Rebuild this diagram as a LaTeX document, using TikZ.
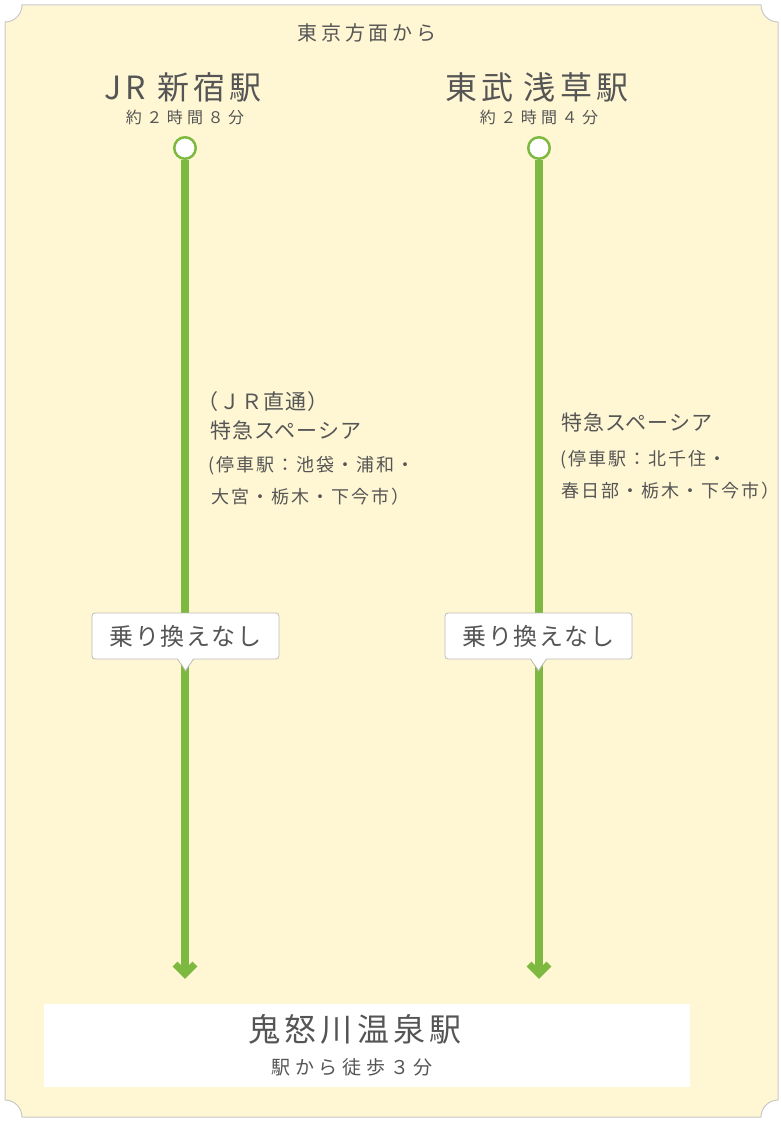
\documentclass[tikz,border=0pt]{standalone}
\usepackage{fontspec}
\usepackage{xcolor}
\usepackage{tikz}

\newfontfamily\jp{Noto Sans CJK JP}
\newcommand\jpsize[2]{\jp\fontsize{#1}{#1}\selectfont\addfontfeatures{LetterSpace=#2}}

\definecolor{cream}{HTML}{FFF7D4}
\definecolor{railgreen}{HTML}{7DB940}
\definecolor{ink}{HTML}{555555}
\definecolor{edge}{HTML}{C8C8C8}
\definecolor{boxedge}{HTML}{BBBBBB}

\begin{document}
\begin{tikzpicture}[x=1pt, y=-1pt,
        label/.style={text=ink, inner sep=0pt},
        station/.style={label, font=\jpsize{32}{13}},
        duration/.style={label, font=\jpsize{16}{28}},
        route/.style={label, anchor=west, font=\jpsize{21}{5}},
        stops/.style={label, anchor=west, font=\jpsize{18}{11}},
        stop/.style={circle, draw=railgreen, fill=white, line width=2.5pt, minimum size=21.5pt, inner sep=0pt},
        rail/.style={railgreen, line width=8pt},
        chevron/.style={railgreen, line width=7pt},
        notice/.style={draw=boxedge, fill=white, line width=0.8pt, rounded corners=3pt, outer sep=0pt,
            minimum width=187pt, minimum height=46pt, text=ink, font=\jpsize{24}{6}},
        pointer/.style={draw=boxedge, line width=0.8pt}]
        \useasboundingbox (0, 0) rectangle (780, 1121);

        % ticket shaped background
        \filldraw[fill=cream, draw=edge, line width=1pt] (22, 5) -- (761, 5) arc[start angle=180, end angle=90, radius=17]
            -- (778, 1100) arc[start angle=270, end angle=180, radius=17]
            -- (22, 1117) arc[start angle=360, end angle=270, radius=17]
            -- (5, 22) arc[start angle=90, end angle=0, radius=17] -- cycle;

        \node[label, font=\jpsize{20}{19}] (from) at (367, 33) {東京方面から};

        \node[station] (jrName) at (183, 87) {JR\hspace{12pt}新宿駅};
        \node[duration] (jrTime) at (185, 117) {約２時間８分};
        \node[station] (tobuName) at (537, 87) {東武\hspace{10pt}浅草駅};
        \node[duration] (tobuTime) at (539, 117) {約２時間４分};

        \node[stop] (jr) at (185, 148) {};
        \coordinate (jrEnd) at (185, 974);
        \draw[rail] (jr) -- (jrEnd);
        \draw[chevron] (jrEnd) ++(-10, -10) -- (jrEnd) -- ++(10, -10);

        \node[stop] (tobu) at (539, 148) {};
        \coordinate (tobuEnd) at (539, 974);
        \draw[rail] (tobu) -- (tobuEnd);
        \draw[chevron] (tobuEnd) ++(-10, -10) -- (tobuEnd) -- ++(10, -10);

        \node[route] (jrVia) at (197, 402) {（ＪＲ直通）};
        \node[route] (jrTrain) at (210, 430) {特急スペーシア};
        \node[stops] (jrStops) at (208, 466) {(停車駅：池袋・浦和・};
        \node[stops] (jrStopsMore) at (211, 497) {大宮・栃木・下今市）};

        \node[route] (tobuTrain) at (561, 422) {特急スペーシア};
        \node[stops] (tobuStops) at (560, 460) {(停車駅：北千住・};
        \node[stops] (tobuStopsMore) at (561, 491) {春日部・栃木・下今市）};

        \node[notice] (jrNote) at (185.5, 636) {乗り換えなし};
        \fill[white] ([xshift=-8pt, yshift=1pt]jrNote.south) -- ++(8, 12) -- ++(8, -12) -- cycle;
        \draw[pointer] ([xshift=-8pt]jrNote.south) -- ++(8, 12) -- ++(8, -12);

        \node[notice] (tobuNote) at (538.5, 636) {乗り換えなし};
        \fill[white] ([xshift=-8pt, yshift=1pt]tobuNote.south) -- ++(8, 12) -- ++(8, -12) -- cycle;
        \draw[pointer] ([xshift=-8pt]tobuNote.south) -- ++(8, 12) -- ++(8, -12);

        \node[fill=white, minimum width=646pt, minimum height=83pt, inner sep=0pt] (goal) at (367, 1045.5) {};
        \node[label, font=\jpsize{32}{13}] (goalName) at (355, 1029) {鬼怒川温泉駅};
        \node[label, font=\jpsize{19}{25}] (goalWalk) at (352, 1067) {駅から徒歩３分};

    \end{tikzpicture}
\end{document}
